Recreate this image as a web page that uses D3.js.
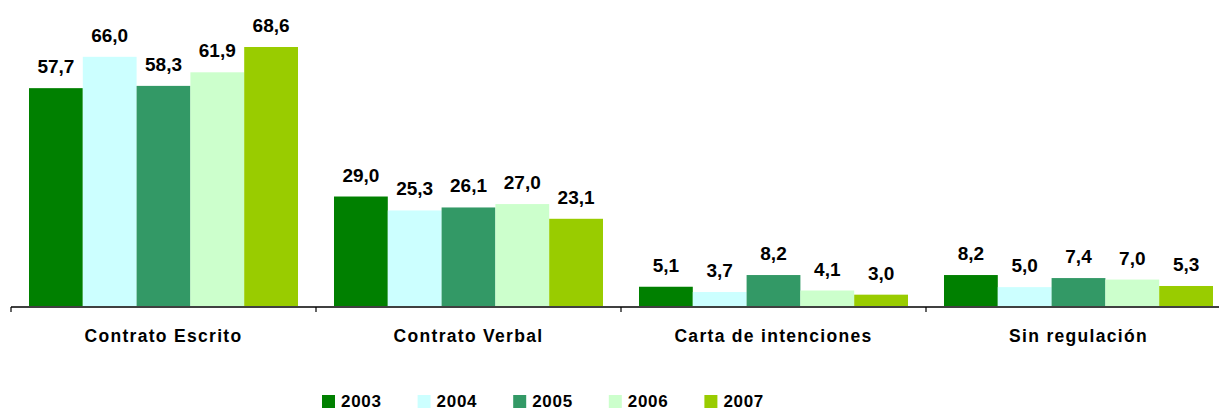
<!DOCTYPE html>
<html>
<head>
<meta charset="utf-8">
<script src="https://cdn.jsdelivr.net/npm/d3@7"></script>
<style>
  body { margin: 0; background: #fff; }
  text { font-family: "Liberation Sans", Arial, sans-serif; font-weight: bold; fill: #000; }
</style>
</head>
<body>
<div id="chart"></div>
<script>
const categories = ['Contrato Escrito', 'Contrato Verbal', 'Carta de intenciones', 'Sin regulación'];
const years = ['2003', '2004', '2005', '2006', '2007'];
const values2003 = [57.7, 29.0, 5.1, 8.2];
const values2004 = [66.0, 25.3, 3.7, 5.0];
const values2005 = [58.3, 26.1, 8.2, 7.4];
const values2006 = [61.9, 27.0, 4.1, 7.0];
const values2007 = [68.6, 23.1, 3.0, 5.3];
const colors = ['#008000', '#ccffff', '#339966', '#ccffcc', '#99cc00'];

const series = [values2003, values2004, values2005, values2006, values2007];
const width = 1219, height = 410;
const baseY = 306;

const svg = d3.select('#chart').append('svg')
  .attr('width', width).attr('height', height);

// category bands: 305px each, the last one runs past the right edge
const x0 = d3.scaleBand().domain(categories).range([11, 11 + 305 * 4]).paddingInner(0.118).paddingOuter(0.059);
const x0axis = d3.scaleBand().domain(categories).range([11, 11 + 305 * 4]);
const x1 = d3.scaleBand().domain(years).range([0, x0.bandwidth()]);
const y = d3.scaleLinear().domain([0, 68.6]).range([baseY, 47]);

const data = [];
categories.forEach((c, i) => {
  years.forEach((yr, j) => data.push({ cat: c, year: yr, v: series[j][i], color: colors[j] }));
});

svg.selectAll('rect.bar').data(data).join('rect')
  .attr('class', 'bar')
  .attr('x', d => x0(d.cat) + x1(d.year))
  .attr('y', d => y(d.v))
  .attr('width', x1.bandwidth())
  .attr('height', d => baseY - y(d.v))
  .attr('fill', d => d.color);

svg.selectAll('text.val').data(data).join('text')
  .attr('class', 'val')
  .attr('x', d => x0(d.cat) + x1(d.year) + x1.bandwidth() / 2)
  .attr('y', d => y(d.v) - 15)
  .attr('text-anchor', 'middle')
  .attr('font-size', 19)
  .text(d => d3.format('.1f')(d.v).replace('.', ','));

// axis
const ax = svg.append('g');
ax.append('line').attr('x1', 11).attr('x2', width).attr('y1', baseY + 1).attr('y2', baseY + 1)
  .attr('stroke', '#000').attr('stroke-width', 1.5);
const tickXs = categories.map(c => x0axis(c)).concat([x0axis.range()[1]]);
ax.selectAll('line.tick').data(tickXs).join('line')
  .attr('class', 'tick')
  .attr('x1', d => d).attr('x2', d => d)
  .attr('y1', baseY + 1).attr('y2', baseY + 6)
  .attr('stroke', '#000').attr('stroke-width', 1.2);
ax.selectAll('text.cat').data(categories).join('text')
  .attr('class', 'cat')
  .attr('x', d => x0axis(d) + x0axis.bandwidth() / 2)
  .attr('y', 342)
  .attr('text-anchor', 'middle')
  .attr('font-size', 17.5)
  .attr('letter-spacing', 1.3)
  .text(d => d);

// legend
const lg = svg.append('g').selectAll('g').data(years).join('g')
  .attr('transform', (d, i) => `translate(${322 + i * 95.6},0)`);
lg.append('rect').attr('x', 0).attr('y', 395).attr('width', 13).attr('height', 13)
  .attr('fill', (d, i) => colors[i]);
lg.append('text').attr('x', 19).attr('y', 407).attr('font-size', 17)
  .attr('letter-spacing', 0.7).text(d => d);
</script>
</body>
</html>
